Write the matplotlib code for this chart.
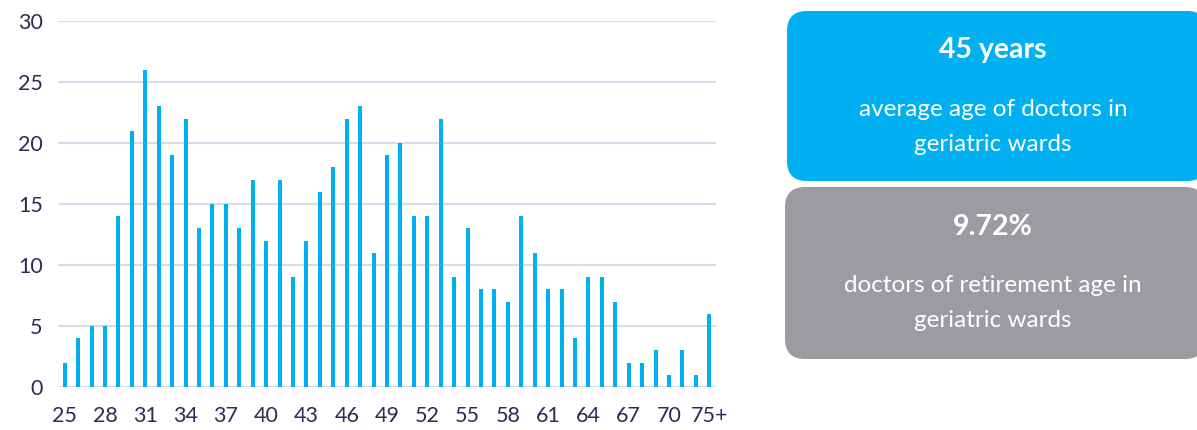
import matplotlib

matplotlib.use("Agg")

import matplotlib.pyplot as plt
from matplotlib.patches import FancyBboxPatch

# --- Dados ---------------------------------------------------------------
idades = [str(a) for a in range(25, 73)] + ["75+"]
medicos = [2, 4, 5, 5, 14, 21, 26, 23, 19, 22, 13, 15, 15, 13, 17, 12, 17, 9,
           12, 16, 18, 22, 23, 11, 19, 20, 14, 14, 22, 9, 13, 8, 8, 7, 14, 11,
           8, 8, 4, 9, 9, 7, 2, 2, 3, 1, 3, 1, 6]
y_ticks = [0, 5, 10, 15, 20, 25, 30]

destaque_titulos = ["45 years", "9.72%"]
destaque_textos = ["average age of doctors in\ngeriatric wards",
                   "doctors of retirement age in\ngeriatric wards"]

AZUL = "#00b0f0"
CINZA = "#9b9ca0"
GRADE = "#d9d9ee"
TEXTO = "#2b2b55"

plt.rcParams["font.family"] = ["Lato", "DejaVu Sans"]

fig = plt.figure(figsize=(11.97, 4.30), dpi=100)
ax = fig.add_axes([58 / 1197, 1 - 387 / 430, (716 - 58) / 1197, (387 - 21) / 430])

x = list(range(len(idades)))
ax.bar(x, medicos, width=0.3, color=AZUL, zorder=2)
ax.set_xlim(-0.5, len(idades) - 0.5)
ax.set_ylim(0, 30)
ax.set_yticks(y_ticks)
ax.set_xticks(x[::3])
ax.set_xticklabels(idades[::3])
ax.tick_params(axis="both", length=0, labelsize=15.5, colors=TEXTO)
ax.tick_params(axis="x", pad=14)
ax.tick_params(axis="y", pad=11)
ax.grid(axis="y", color=GRADE, linewidth=1.5, zorder=0)
for s in ax.spines.values():
    s.set_visible(False)

# --- Caixas de destaque (coordenadas em pixels) --------------------------
ov = fig.add_axes([0, 0, 1, 1])
ov.set_xlim(0, 1197)
ov.set_ylim(430, 0)
ov.axis("off")

caixas = [(787, 11, 420, 170, AZUL, 50, 108), (785, 187, 420, 172, CINZA, 227, 284)]
for (bx, by, bw, bh, cor, ty, ly), tit, txt in zip(caixas, destaque_titulos, destaque_textos):
    ov.add_patch(FancyBboxPatch((bx + 20, by + 20), bw - 40, bh - 40,
                                boxstyle="round,pad=20", linewidth=0,
                                facecolor=cor))
    ov.text(993, ty, tit, color="white", fontsize=20.5, fontweight="bold",
            ha="center", va="center")
    ov.text(993, ly + 19, txt, color="white", fontsize=17.5, ha="center",
            va="center", linespacing=1.85)

fig.savefig("out.png", dpi=100, facecolor="white")
